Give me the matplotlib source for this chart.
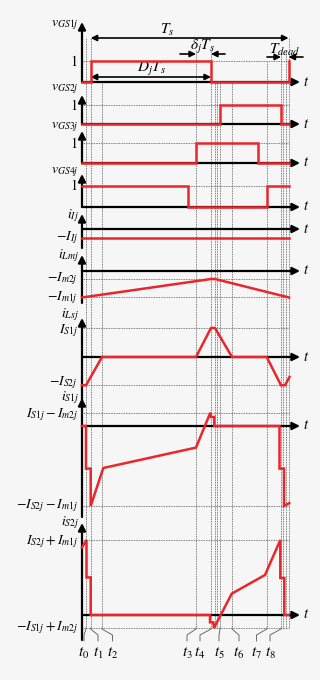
import matplotlib
matplotlib.use('Agg')
import matplotlib.pyplot as plt

plt.rcParams['mathtext.fontset'] = 'stix'
plt.rcParams['font.family'] = 'serif'
plt.rcParams['font.serif'] = ['Liberation Serif', 'DejaVu Serif']

RED = '#e8262b'
GRID = '#555555'
BG = '#f6f6f6'
W, H = 320, 680
X0 = 82  # y axis position (px)

# time of guide lines (a.u., 0 = y axis) and where each starts at the top (px)
t_marks = [4, 8.7, 20, 114, 129, 133, 135, 138, 150, 184.7, 199, 201, 203.5, 206.5]
mark_top = [38, 38, 82, 50, 50, 82, 82, 82, 82, 61, 50, 82, 50, 38]

# bottom labels: text, label position, guide line it hangs on
t_names = ['$t_0$', '$t_1$', '$t_2$', '$t_3$', '$t_4$', '$t_5$', '$t_6$', '$t_7$', '$t_8$']
t_name_pos = [2, 16, 30.5, 105, 118, 137, 157, 174.5, 188]
t_name_line = [4, 8.7, 20, 114, 129, 138, 150, 184.7, 199]

# gate signals
vgs1_t = [0, 8.7, 8.7, 129, 129, 206.5, 206.5]
vgs1 = [0, 0, 1, 1, 0, 0, 1]
vgs2_t = [0, 137.5, 137.5, 199, 199, 207]
vgs2 = [0, 0, 1, 1, 0, 0]
vgs3_t = [0, 114, 114, 176.3, 176.3, 207]
vgs3 = [0, 0, 1, 1, 0, 0]
vgs4_t = [0, 106.3, 106.3, 184.7, 184.7, 207]
vgs4 = [1, 1, 0, 0, 1, 1]

# currents (a.u.)
iI_t = [0, 207]
iI = [-9, -9]
iLm_t = [0, 129, 133, 207]
iLm = [-26.5, -8, -8, -26.5]
iLs_t = [0, 4, 20, 114, 129, 133, 150, 184.7, 199, 203, 207.5]
iLs = [-28.3, -28.3, 0, 0, 29, 29, 0, 0, -28.3, -28.3, -20]
iS1_t = [0, 4, 4, 8.7, 8.7, 21.3, 114, 128.3, 129, 132.3, 132.3, 197.5, 197.5, 202, 202, 207.3]
iS1 = [0, 0, -42.6, -42.6, -80, -42, -21.6, 13.3, 9, 9, 0, 0, -42.6, -42.6, -80, -77]
iS2_t = [0, 4.5, 4.5, 8.7, 8.7, 128, 128, 131.3, 132, 149.7, 183, 198.3, 198.3, 202.3, 202.3, 206.5]
iS2 = [67.6, 75, 37.6, 37.6, 0, 0, -7.3, -7.3, -13, 21.3, 40, 75, 37, 37, 0, 0]

# panels: axis px, band top/bottom px, px per unit, arrow tip px, y-axis bottom px, name px
layout = [
    (82, 10, 86, 21, 22, 82, 25),
    (124, 86, 126, 19, 95, 124, 89),
    (163, 126, 166, 20, 131, 163, 127),
    (207, 166, 210, 21, 174, 207, 172),
    (229, 210, 246, 1, 214, 248, 216),
    (271, 246, 306, 1, 255, 303, 256),
    (357, 306, 394, 1, 318, 400, 315),
    (426, 394, 519, 1, 398, 517, 398),
    (615, 519, 680, 1, 523, 640, 523),
]
names = [r'$v_{GS1j}$', r'$v_{GS2j}$', r'$v_{GS3j}$', r'$v_{GS4j}$', r'$i_{Ij}$',
         r'$i_{Lmj}$', r'$i_{Lsj}$', r'$i_{S1j}$', r'$i_{S2j}$']
series = [(vgs1_t, vgs1), (vgs2_t, vgs2), (vgs3_t, vgs3), (vgs4_t, vgs4), (iI_t, iI),
          (iLm_t, iLm), (iLs_t, iLs), (iS1_t, iS1), (iS2_t, iS2)]
# level value, label, vertical nudge of the label (px)
levels = [
    [(1, '$1$', 0)], [(1, '$1$', 0)], [(1, '$1$', 0)], [(1, '$1$', 0)],
    [(-9, r'$-I_{Ij}$', 0)],
    [(-8, r'$-I_{m2j}$', 0), (-26.5, r'$-I_{m1j}$', 0)],
    [(29, r'$I_{S1j}$', -3), (-28.3, r'$-I_{S2j}$', 3)],
    [(13.3, r'$I_{S1j}-I_{m2j}$', -2), (-80, r'$-I_{S2j}-I_{m1j}$', 0)],
    [(75, r'$I_{S2j}+I_{m1j}$', -2), (-13, r'$-I_{S1j}+I_{m2j}$', 0)],
]

fig = plt.figure(figsize=(W / 100, H / 100), dpi=100, facecolor=BG)
axes = []
for k, (ay, top, bot, sc, tip, yb, ny) in enumerate(layout):
    ax = fig.add_axes([0, 1 - bot / H, 1, (bot - top) / H])
    ax.set_xlim(-X0, W - X0)
    ax.set_ylim((ay - bot) / sc, (ay - top) / sc)
    ax.axis('off')
    axes.append(ax)
    px = lambda p, ay=ay, sc=sc: (ay - p) / sc

    # guide lines
    for j, tm in enumerate(t_marks):
        y_hi = px(mark_top[j]) if k == 0 else px(top)
        y_lo = px(628) if k == 8 else px(bot)
        ax.plot([tm, tm], [y_lo, y_hi], ls=(0, (1, 1)), lw=0.6, color=GRID,
                clip_on=False, zorder=1)
    for val, lab, nudge in levels[k]:
        ax.plot([0, 207], [val, val], ls=(0, (1, 1)), lw=0.6, color=GRID, zorder=1)
        ax.text(-4, val + nudge / sc, lab, ha='right', va='center', fontsize=10)

    # axes arrows
    ax.annotate('', xy=(0, px(tip)), xytext=(0, px(yb)), annotation_clip=False,
                arrowprops=dict(arrowstyle='-|>', lw=1.6, color='k',
                                mutation_scale=11, shrinkA=0, shrinkB=0))
    ax.annotate('', xy=(218, 0), xytext=(0, 0), annotation_clip=False,
                arrowprops=dict(arrowstyle='-|>', lw=1.6, color='k',
                                mutation_scale=11, shrinkA=0, shrinkB=0))
    ax.text(221, 0, '$t$', ha='left', va='center', fontsize=10.5)
    ax.text(-3, px(ny), names[k], ha='right', va='center', fontsize=10)

    st, sv = series[k]
    ax.plot(st, sv, color=RED, lw=1.8, zorder=5, clip_on=False,
            solid_joinstyle='miter')

# annotations on the first panel
a1 = axes[0]
arw = dict(arrowstyle='<|-|>', lw=1.2, color='k', mutation_scale=9, shrinkA=0, shrinkB=0)
one = dict(arrowstyle='-|>', lw=1.2, color='k', mutation_scale=9, shrinkA=0, shrinkB=0)
a1.annotate('', xy=(t_marks[-1], 44 / 21), xytext=(t_marks[1], 44 / 21), arrowprops=arw)
a1.text(85, 52 / 21, '$T_s$', ha='center', va='center', fontsize=11)
a1.annotate('', xy=(129, 5 / 21), xytext=(t_marks[1], 5 / 21), arrowprops=arw)
a1.text(70, 13 / 21, '$D_jT_s$', ha='center', va='center', fontsize=11)
a1.annotate('', xy=(114, 28 / 21), xytext=(98, 28 / 21), arrowprops=one)
a1.annotate('', xy=(129, 28 / 21), xytext=(143, 28 / 21), arrowprops=one)
a1.text(121, 35 / 21, r'$\delta_jT_s$', ha='center', va='center', fontsize=11)
a1.annotate('', xy=(199, 25 / 21), xytext=(185, 25 / 21), arrowprops=one)
a1.annotate('', xy=(206.5, 25 / 21), xytext=(221, 25 / 21), arrowprops=one,
            annotation_clip=False)
a1.text(203, 32 / 21, '$T_{dead}$', ha='center', va='center', fontsize=11)

# bottom time labels with their little leader lines
a9 = axes[-1]
for lab, xp, tl in zip(t_names, t_name_pos, t_name_line):
    a9.plot([tl, tl, xp, xp], [-13, -14, -20, -26], lw=0.6, color=GRID, clip_on=False)
    a9.text(xp, -38, lab, ha='center', va='center', fontsize=11)

fig.savefig('out.png', dpi=100, facecolor=BG)
